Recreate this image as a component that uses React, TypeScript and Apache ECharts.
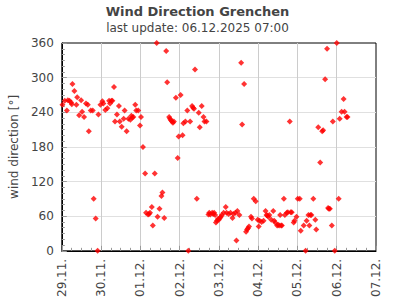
import React, { useEffect, useRef } from "react";
import * as echarts from "echarts";

const titleText = "Wind Direction Grenchen";
const subtitleText = "last update: 06.12.2025 07:00";
const yAxisName = "wind direction [°]";
const xTickLabels = ["29.11.", "30.11.", "01.12.", "02.12.", "03.12.", "04.12.", "05.12.", "06.12.", "07.12."];
const yTicks = [0, 60, 120, 180, 240, 300, 360];

// hours since 29.11. 00:00
const hours = [
  0.4, 1.8, 3.1, 3.7, 4.7, 5.7, 6.1, 6.5, 7.7, 8.9, 9.4, 10.6, 11.8, 12.4, 13.6, 14.8, 15.9, 16.5, 17.7, 18.9,
  19.5, 20.7, 21.9, 22.4, 23.6, 24.8, 25.4, 26.6, 27.8, 28.9, 29.5, 30.3, 30.9, 31.9, 32.5, 33.7, 34.9, 35.4, 36.6, 37.8,
  38.4, 39.6, 40.7, 41.9, 42.5, 43.1, 43.7, 44.9, 45.5, 46.7, 47.8, 48.4, 49.6, 50.9, 51.5, 52.7, 53.3, 53.9, 55.0, 55.6,
  56.8, 58.0, 58.5, 59.7, 60.9, 61.5, 62.6, 63.8, 64.4, 65.6, 66.1, 66.7, 67.3, 67.9, 68.5, 69.7, 70.8, 71.4, 72.6, 73.8,
  74.3, 75.5, 76.7, 77.3, 78.4, 79.6, 80.2, 80.8, 81.4, 82.5, 83.7, 84.3, 85.5, 86.6, 87.2, 88.4, 89.6, 90.1, 90.7, 91.9,
  92.5, 93.1, 93.7, 94.2, 94.8, 95.4, 96.0, 96.6, 97.2, 97.8, 98.9, 100.2, 100.7, 101.9, 103.1, 104.3, 104.9, 106.1, 106.7, 107.3,
  108.5, 109.6, 110.2, 111.4, 112.6, 113.2, 113.8, 114.4, 115.6, 116.2, 117.3, 118.5, 119.7, 120.3, 120.9, 122.1, 123.3, 124.5, 125.1, 125.6,
  126.2, 126.8, 128.0, 129.2, 129.8, 130.4, 131.6, 132.2, 132.8, 133.4, 134.0, 134.5, 135.7, 136.3, 137.5, 138.1, 139.3, 139.9, 140.5, 141.7,
  142.2, 143.4, 144.2, 145.4, 146.0, 147.8, 149.0, 149.6, 150.7, 151.3, 151.9, 152.5, 153.7, 154.9, 155.5, 156.7, 157.9, 159.1, 159.7, 160.9,
  162.1, 162.7, 163.2, 163.8, 165.0, 165.6, 166.8, 168.0, 169.2, 169.8, 171.0, 172.2, 172.8, 174.0, 174.6,
];

// wind direction in degrees
const directions = [
  253, 260, 243, 261, 260, 257, 254, 289, 277, 253, 266, 235, 261, 241, 232, 255, 253, 207, 243, 243,
  90, 56, 0, 236, 253, 259, 255, 244, 247, 260, 255, 260, 260, 284, 224, 236, 251, 224, 215, 229,
  243, 207, 229, 227, 234, 231, 232, 253, 243, 243, 217, 232, 180, 134, 66, 63, 64, 66, 76, 44,
  134, 360, 59, 73, 95, 101, 57, 346, 292, 232, 229, 226, 224, 222, 224, 265, 161, 198, 270, 200,
  221, 224, 243, 0, 224, 251, 248, 246, 314, 90, 239, 214, 251, 232, 224, 224, 63, 66, 63, 66,
  64, 66, 62, 49, 52, 55, 54, 57, 59, 62, 66, 76, 66, 64, 66, 57, 64, 66, 18, 69,
  62, 326, 219, 289, 33, 37, 39, 42, 59, 56, 90, 86, 54, 42, 52, 50, 52, 69, 62, 61,
  59, 62, 54, 69, 52, 49, 44, 45, 44, 62, 44, 44, 90, 62, 66, 67, 224, 67, 67, 49,
  52, 59, 90, 90, 35, 44, 0, 52, 62, 44, 62, 62, 90, 54, 37, 214, 153, 207, 209, 297,
  350, 74, 73, 73, 44, 224, 0, 360, 90, 229, 241, 263, 241, 232, 232,
];

export default function App() {
  const ref = useRef<HTMLDivElement>(null);
  useEffect(() => {
    if (!ref.current) return;
    document.body.style.margin = "0";
    const chart = echarts.init(ref.current, null, { renderer: "svg" });
    const data = hours.map((h, i) => [h, directions[i]]);
    const font = "DejaVu Sans";
    chart.setOption({
      animation: false,
      backgroundColor: "#ffffff",
      title: {
        text: titleText,
        subtext: subtitleText,
        left: "center",
        top: 0,
        itemGap: 4,
        textStyle: { fontFamily: font, fontSize: 13, fontWeight: "bold", color: "#444" },
        subtextStyle: { fontFamily: font, fontSize: 12, color: "#444" },
      },
      grid: {
        left: 50,
        right: 19,
        top: 43,
        bottom: 46,
        show: true,
        borderColor: "#000",
        borderWidth: 1,
        backgroundColor: "transparent",
      },
      xAxis: {
        type: "value",
        min: 0,
        max: 192,
        interval: 24,
        axisLine: { show: true, onZero: false, lineStyle: { color: "#000", width: 1 } },
        axisTick: { show: true, inside: true, length: 5, lineStyle: { color: "#999" } },
        minorTick: { show: true, splitNumber: 4, length: 3, lineStyle: { color: "#999" } },
        splitLine: { show: true, showMinLine: false, showMaxLine: false, lineStyle: { color: "#cccccc", width: 1 } },
        axisLabel: {
          rotate: 90,
          margin: 8,
          fontFamily: font,
          fontSize: 12,
          color: "#444",
          formatter: (v: number) => xTickLabels[Math.round(v / 24)] ?? "",
        },
      },
      yAxis: {
        type: "value",
        min: yTicks[0],
        max: yTicks[yTicks.length - 1],
        interval: 60,
        name: yAxisName,
        nameLocation: "middle",
        nameGap: 22,
        nameTextStyle: { fontFamily: font, fontSize: 12, color: "#444" },
        axisLine: { show: true, onZero: false, lineStyle: { color: "#000", width: 1 } },
        axisTick: { show: true, inside: true, length: 5, lineStyle: { color: "#999" } },
        minorTick: { show: true, splitNumber: 6, length: 3, lineStyle: { color: "#999" } },
        splitLine: { show: true, showMinLine: false, showMaxLine: false, lineStyle: { color: "#e0e0e0", width: 1 } },
        axisLabel: { margin: 8, fontFamily: font, fontSize: 12, color: "#444" },
      },
      series: [
        {
          type: "scatter",
          data,
          symbol: "diamond",
          symbolSize: 6,
          clip: false,
          itemStyle: { color: "#ff0000" },
        },
      ],
    });
    return () => chart.dispose();
  }, []);
  return <div ref={ref} style={{ width: 395, height: 300 }} />;
}
